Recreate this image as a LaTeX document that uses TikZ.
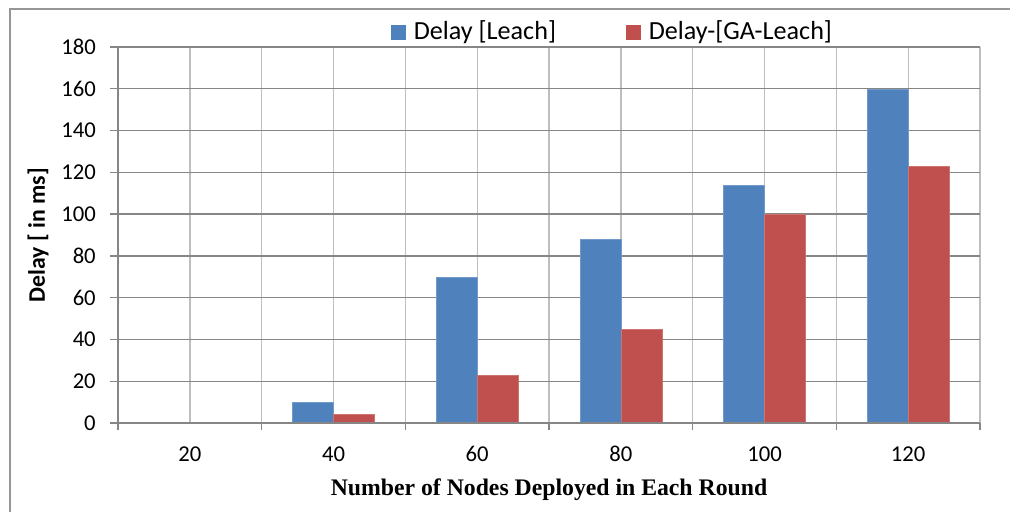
\documentclass[tikz,border=0pt]{standalone}
\usepackage{fontspec}
\setmainfont{Carlito}
\newfontfamily\titlefont{Liberation Serif}
\usetikzlibrary{positioning}
\definecolor{leachblue}{RGB}{79,129,189}
\definecolor{gared}{RGB}{192,80,77}
\definecolor{gridgray}{RGB}{134,134,134}
\definecolor{vgridgray}{RGB}{190,190,190}
\definecolor{framegray}{RGB}{150,150,150}
\begin{document}
\begin{tikzpicture}[x=0.75pt,y=0.75pt,yscale=-1,xscale=1,
  lbl/.style={font=\fontsize{17}{20}\selectfont, inner sep=0pt},
  leglbl/.style={font=\fontsize{19.6}{23}\selectfont, inner sep=0pt},
  legkey/.style={minimum size=11.25pt, inner sep=0pt},
  bar/.style={draw=#1!80!white, line width=0.4pt, fill=#1}]
\useasboundingbox (0,0) rectangle (1010,512);

%outer frame
\draw[framegray, line width=1.2pt] (10,512) -- (10,9) -- (1010,9) ;

%vertical grid
\foreach \i in {1,...,12}
  \draw[vgridgray, line width=1pt] ({118+71.833*\i},47) -- ({118+71.833*\i},423) ;
%horizontal grid and y ticks
\foreach \v in {20,40,...,180}
  \draw[gridgray, line width=1pt] (110,{423-\v*2.0889}) -- (980,{423-\v*2.0889}) ;

%bars
\foreach \i/\a/\b in {0/0/0,1/10/4,2/70/23,3/88/45,4/114/100,5/160/123}{
  \pgfmathsetmacro\cx{118+143.667*(\i+0.5)}
  \ifdim\a pt>0pt
    \draw[bar=leachblue] ({\cx-41},423) rectangle (\cx,{423-\a*2.0889}) ;
    \draw[bar=gared] (\cx,423) rectangle ({\cx+41},{423-\b*2.0889}) ;
  \fi
}

%axes
\draw[gridgray, line width=1.2pt] (118,47) -- (118,430) ;
\draw[gridgray, line width=1.2pt] (110,423) -- (980,423) ;
\foreach \i in {1,...,6}
  \draw[gridgray, line width=1.2pt] ({118+143.667*\i},423) -- ({118+143.667*\i},430) ;

% y labels
\foreach \v in {0,20,...,180}
  \node[lbl, anchor=east] (ytick\v) at (96,{423-\v*2.0889}) {\v};
% x labels
\foreach \n [count=\i from 0] in {20,40,60,80,100,120}
  \node[lbl] (xtick\n) at ({118+143.667*(\i+0.5)},454) {\n};

% axis titles
\node[lbl, font=\fontsize{17.8}{20}\selectfont\bfseries, rotate=90] (ytitle) at (38,235) {Delay [ in ms]};
\node[inner sep=0pt, font=\fontsize{17.8}{20}\titlefont\bfseries] (xtitle) at (549,490) {Number of Nodes Deployed in Each Round};

% legend
\node[legkey, fill=leachblue] (keyleach) at (398.5,32.5) {};
\node[leglbl, anchor=west, right=5.5pt of keyleach] (txtleach) {Delay [Leach]};
\node[legkey, fill=gared] (keyga) at (633.5,32.5) {};
\node[leglbl, anchor=west, right=5.5pt of keyga] (txtga) {Delay-[GA-Leach]};
\end{tikzpicture}
\end{document}
